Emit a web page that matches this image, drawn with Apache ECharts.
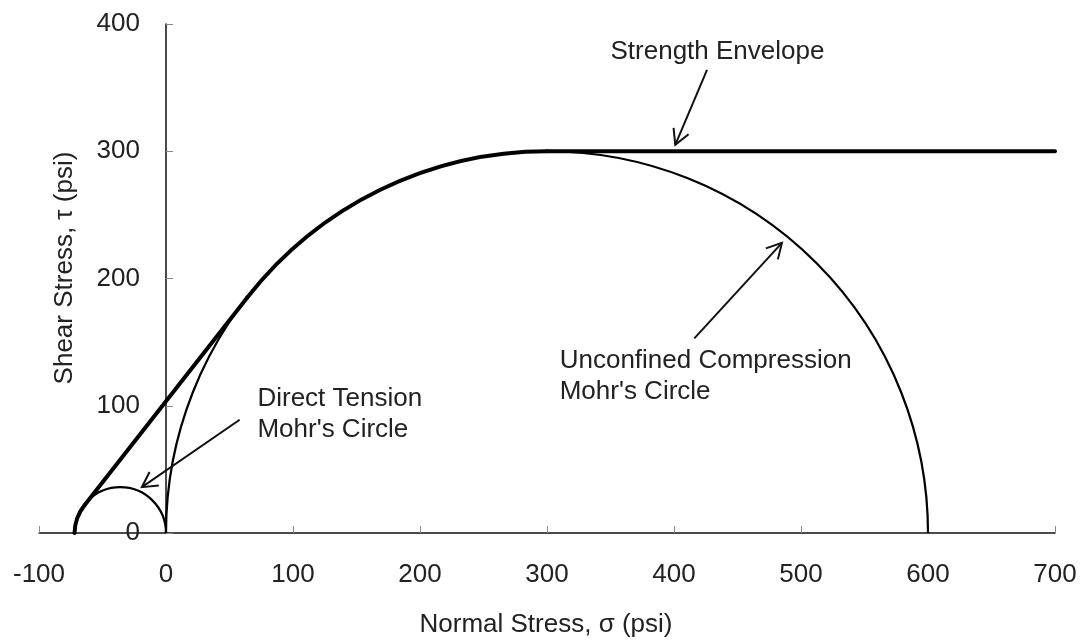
<!DOCTYPE html>
<html>
<head>
<meta charset="utf-8">
<script src="https://cdn.jsdelivr.net/npm/echarts@6/dist/echarts.min.js"></script>
<style>
  html, body { margin: 0; padding: 0; background: #fff; }
  #chart { width: 1081px; height: 643px; }
</style>
</head>
<body>
<div id="chart"></div>
<script>
// axis ticks
const xTicks = [-100, 0, 100, 200, 300, 400, 500, 600, 700];
const yTicks = [0, 100, 200, 300, 400];

// Mohr's circles: [centre sigma, radius]
const mohrCircles = [[-36, 36], [300, 300]];

// strength envelope pieces
// arcs along circles: [centre, radius, fromX, fromY, toX, toY]
const envelopeArcs = [[-36, 36, -72, 0, -64, 22], [300, 300, 64, 185, 300, 300]];
const envelopeTangent = [[-64, 22], [64, 185]];
const envelopePlateau = [[300, 300], [700, 300]];

// arrows: [tailX, tailY, tipX, tipY]
const arrows = [[426, 364, 401, 305], [416, 153, 485, 228], [58, 89, -19, 36]];

// notes: text and left-middle anchor
const noteTexts = ['Strength Envelope', 'Unconfined Compression\nMohr\'s Circle', 'Direct Tension\nMohr\'s Circle'];
const notePos = [[350, 378], [310, 123], [72, 93]];

const FONT = "'Liberation Sans', Arial, sans-serif";
const TXT = '#222';

var myChart = echarts.init(document.getElementById('chart'));

function arcPath(api, c, r, p0, p1) {
  var a = api.coord(p0);
  var b = api.coord(p1);
  var s = api.size([r, r]);
  return 'M' + a[0] + ' ' + a[1] + ' A' + s[0] + ' ' + s[1] + ' 0 0 1 ' + b[0] + ' ' + b[1];
}

// grid is 1016px wide for 800 units, y axis sits at sigma = 0
var yAxisShift = -1016 * (0 - xTicks[0]) / (xTicks[xTicks.length - 1] - xTicks[0]);

var option = {
  animation: false,
  grid: { left: 39, right: 26, top: 24, bottom: 110, containLabel: false, outerBoundsMode: 'none' },
  xAxis: {
    type: 'value',
    min: xTicks[0],
    max: xTicks[xTicks.length - 1],
    interval: 100,
    axisLine: { show: true, lineStyle: { color: '#111', width: 1.5 } },
    axisTick: { show: true, inside: true, length: 7, lineStyle: { color: '#888' } },
    axisLabel: { margin: 29, fontSize: 26, color: TXT, fontFamily: FONT },
    splitLine: { show: false }
  },
  yAxis: {
    type: 'value',
    min: yTicks[0],
    max: yTicks[yTicks.length - 1],
    interval: 100,
    offset: yAxisShift,
    axisLine: { show: true, onZero: false, lineStyle: { color: '#111', width: 1.5 } },
    axisTick: { show: true, inside: true, length: 7, lineStyle: { color: '#888' } },
    axisLabel: { margin: 26, fontSize: 26, color: TXT, fontFamily: FONT },
    splitLine: { show: false }
  },
  graphic: [
    {
      type: 'text', x: 546, y: 625,
      style: { text: 'Normal Stress, σ (psi)', font: '26px ' + FONT, fill: TXT, align: 'center', verticalAlign: 'middle' }
    },
    {
      type: 'text', x: 65, y: 268, rotation: Math.PI / 2,
      style: { text: 'Shear Stress, τ (psi)', font: '26px ' + FONT, fill: TXT, align: 'center', verticalAlign: 'middle' }
    }
  ],
  series: [
    {
      name: "Mohr's circles",
      type: 'custom',
      silent: true,
      data: mohrCircles,
      renderItem: function (params, api) {
        var c = api.value(0), r = api.value(1);
        return {
          type: 'path',
          shape: { pathData: arcPath(api, c, r, [c - r, 0], [c + r, 0]) },
          style: { fill: 'none', stroke: '#000', lineWidth: 2.2 }
        };
      }
    },
    {
      name: 'Envelope arcs',
      type: 'custom',
      silent: true,
      data: envelopeArcs,
      renderItem: function (params, api) {
        var c = api.value(0), r = api.value(1);
        return {
          type: 'path',
          shape: {
            pathData: arcPath(api, c, r, [api.value(2), api.value(3)], [api.value(4), api.value(5)])
          },
          style: { fill: 'none', stroke: '#000', lineWidth: 4, lineCap: 'round' }
        };
      }
    },
    {
      name: 'Envelope tangent',
      type: 'line',
      silent: true,
      symbol: 'none',
      data: envelopeTangent,
      lineStyle: { color: '#000', width: 4, cap: 'round' }
    },
    {
      name: 'Envelope plateau',
      type: 'line',
      silent: true,
      symbol: 'none',
      data: envelopePlateau,
      lineStyle: { color: '#000', width: 4, cap: 'round' }
    },
    {
      name: 'Arrows',
      type: 'custom',
      silent: true,
      data: arrows,
      renderItem: function (params, api) {
        var p = api.coord([api.value(0), api.value(1)]);
        var q = api.coord([api.value(2), api.value(3)]);
        var ang = Math.atan2(p[1] - q[1], p[0] - q[0]);
        var L = 17, w = 0.5;
        var h1 = [q[0] + L * Math.cos(ang + w), q[1] + L * Math.sin(ang + w)];
        var h2 = [q[0] + L * Math.cos(ang - w), q[1] + L * Math.sin(ang - w)];
        var st = { fill: 'none', stroke: '#111', lineWidth: 2 };
        return {
          type: 'group',
          children: [
            { type: 'line', shape: { x1: p[0], y1: p[1], x2: q[0], y2: q[1] }, style: st },
            { type: 'polyline', shape: { points: [h1, q, h2] }, style: st }
          ]
        };
      }
    },
    {
      name: 'Notes',
      type: 'scatter',
      silent: true,
      symbolSize: 0,
      itemStyle: { opacity: 1 },
      data: notePos.map(function (p, i) { return { name: noteTexts[i], value: p }; }),
      label: {
        show: true,
        position: 'right',
        distance: 0,
        formatter: '{b}',
        align: 'left',
        fontSize: 26,
        lineHeight: 31,
        color: TXT,
        opacity: 1,
        fontFamily: FONT
      }
    }
  ]
};
myChart.setOption(option);
window.onresize = myChart.resize;
</script>
</body>
</html>
